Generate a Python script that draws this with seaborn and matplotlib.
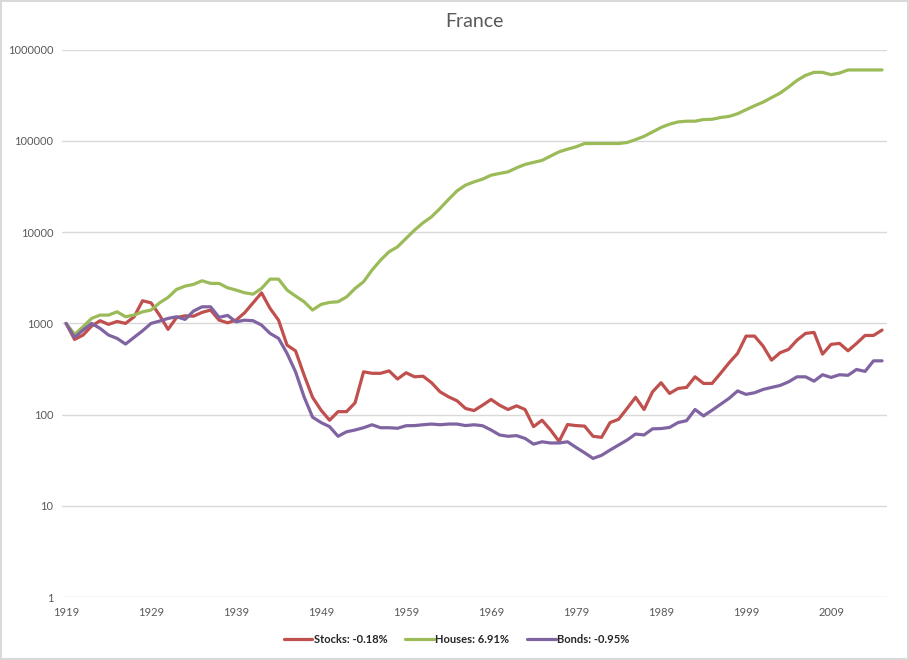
import numpy as np
import pandas as pd
import matplotlib
matplotlib.use("Agg")
import matplotlib.pyplot as plt
import seaborn as sns

years = list(range(1919, 2016))

stocks = [
    1000, 668, 745, 935, 1070, 975, 1050, 1000, 1180, 1770,
    1680, 1230, 860, 1160, 1210, 1200, 1320, 1400, 1087, 1015,
    1085, 1306, 1680, 2160, 1460, 1085, 578, 500, 272, 155,
    112, 87, 108, 108, 135, 295, 284, 284, 302, 246,
    288, 260, 264, 224, 178, 157, 142, 117, 111, 127,
    147, 127, 114, 125, 114, 74, 87, 68, 51, 78,
    76, 75, 58, 56.5, 82, 89, 117, 155, 114, 178,
    224, 171, 194, 199, 260, 220, 220, 284, 370, 469,
    726, 726, 565, 396, 477, 519, 656, 777, 797, 461,
    589, 604, 501, 604, 738, 738, 845,
]

houses = [
    1000, 760, 918, 1134, 1233, 1233, 1340, 1183, 1233, 1340,
    1400, 1680, 1927, 2357, 2560, 2675, 2930, 2743, 2743, 2455,
    2318, 2165, 2090, 2414, 3055, 3055, 2318, 1993, 1727, 1400,
    1615, 1698, 1727, 1950, 2414, 2857, 3840, 4935, 6085, 6900,
    8530, 10520, 12650, 14720, 18170, 22800, 28300, 32700, 35500, 38000,
    42000, 43900, 45700, 50600, 55100, 58000, 61000, 68000, 75700, 81000,
    85900, 93400, 93400, 93400, 93400, 93400, 95700, 103000, 112000, 125000,
    140000, 152000, 161000, 164000, 164000, 171000, 172000, 180000, 185000, 198000,
    219000, 242000, 265000, 297000, 333000, 388000, 459000, 521000, 562000, 562000,
    530000, 552000, 597000, 597000, 597000, 597000, 597000,
]

bonds = [
    1000, 703, 845, 1000, 882, 745, 685, 594, 703, 830,
    1000, 1060, 1134, 1182, 1106, 1365, 1520, 1520, 1164, 1224,
    1041, 1085, 1070, 958, 777, 685, 469, 295, 157, 94,
    82, 74, 58, 65, 68, 72, 77.6, 72, 72, 71,
    75.7, 76, 77.6, 79, 77.6, 79, 79, 76, 77.6, 75.7,
    68, 60, 58, 59, 55, 47.6, 50.5, 49, 49, 50.5,
    43.8, 38.3, 33.2, 35.9, 41, 46.5, 52.7, 61.4, 60, 70,
    70.5, 72.5, 82, 86, 114, 97, 112, 130, 151, 182,
    167, 174, 189, 199, 209, 229, 260, 260, 233, 274,
    256, 274, 270, 313, 298, 389, 389,
]

labels = ["Stocks: -0.18%", "Houses: 6.91%", "Bonds: -0.95%"]
colors = ["#C0504D", "#9BBB59", "#8064A2"]
y_ticks = [1, 10, 100, 1000, 10000, 100000, 1000000]
x_ticks = list(range(1919, 2016, 10))

df = pd.concat([
    pd.DataFrame({"year": years, "value": stocks, "series": labels[0]}),
    pd.DataFrame({"year": years, "value": houses, "series": labels[1]}),
    pd.DataFrame({"year": years, "value": bonds, "series": labels[2]}),
])

sns.set_style("white")
plt.rcParams["font.family"] = ["Lato", "DejaVu Sans"]

fig = plt.figure(figsize=(9.09, 6.6), dpi=100)
fig.patch.set_edgecolor("#D9D9D9")
fig.patch.set_linewidth(1.5)
ax = fig.add_axes([0.068, 0.095, 0.9075, 0.830])

sns.lineplot(data=df, x="year", y="value", hue="series", palette=colors,
             linewidth=2.3, ax=ax, legend=True)
for line in ax.get_lines():
    line.set_solid_joinstyle("round")
    line.set_solid_capstyle("round")

ax.set_yscale("log")
ax.set_ylim(1, 1000000)
ax.set_xlim(1918.5, 2015.55)
ax.set_yticks(y_ticks)
ax.set_yticklabels([str(v) for v in y_ticks])
ax.yaxis.set_minor_locator(matplotlib.ticker.NullLocator())
ax.set_xticks(x_ticks)
ax.set_xticklabels([str(v) for v in x_ticks])
ax.tick_params(axis="both", length=0, labelsize=8, colors="#595959")
ax.tick_params(axis="x", pad=7)
ax.tick_params(axis="y", pad=6)
ax.grid(axis="y", color="#D9D9D9", linewidth=1)
ax.set_axisbelow(True)
for s in ax.spines.values():
    s.set_visible(False)
ax.set_xlabel("")
ax.set_ylabel("")
ax.set_title("France", fontsize=14, color="#595959", pad=16)

handles, _ = ax.get_legend_handles_labels()
ax.get_legend().remove()
fig.legend(handles, labels, loc="center", bbox_to_anchor=(0.502, 0.031),
           ncol=3, frameon=False, handlelength=2.6, handletextpad=0.1,
           columnspacing=1.6, prop={"size": 8, "weight": "bold"})

fig.savefig("out.png", dpi=100)
